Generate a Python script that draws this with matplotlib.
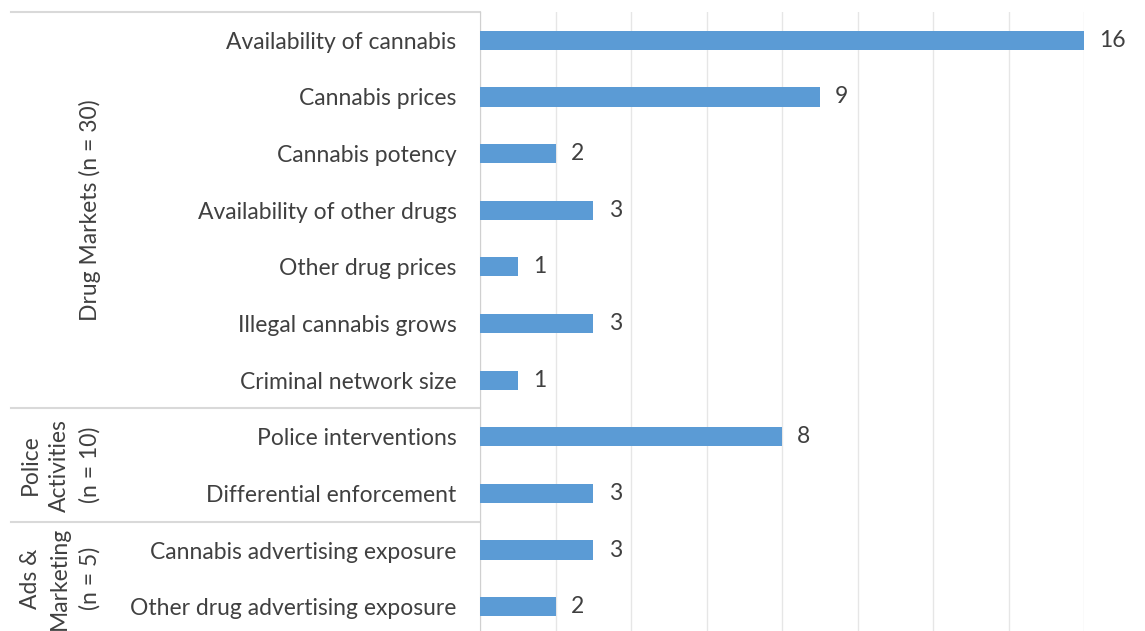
import matplotlib.pyplot as plt
import matplotlib.transforms as mtransforms
import numpy as np

categories = [
    "Availability of cannabis",
    "Cannabis prices",
    "Cannabis potency",
    "Availability of other drugs",
    "Other drug prices",
    "Illegal cannabis grows",
    "Criminal network size",
    "Police interventions",
    "Differential enforcement",
    "Cannabis advertising exposure",
    "Other drug advertising exposure",
]
counts = [16, 9, 2, 3, 1, 3, 1, 8, 3, 3, 2]

# (label, first row, last row)
groups = [
    ("Drug Markets (n = 30)", 0, 6),
    ("Police\nActivities\n(n = 10)", 7, 8),
    ("Ads &\nMarketing\n(n = 5)", 9, 10),
]

plt.rcParams['font.family'] = ['Lato', 'DejaVu Sans']
text_color = "#404040"
fs = 16.5
W, H = 1145, 631

fig = plt.figure(figsize=(W / 100, H / 100), dpi=100)
ax = fig.add_axes([480 / W, 1 - 635 / H, (1084 - 480) / W, (635 - 12) / H])

y = np.arange(len(categories))
ax.barh(y, counts, height=0.34, color="#5B9BD5", zorder=3)

for yi, v in zip(y, counts):
    ax.annotate(str(v), (v, yi), xytext=(11, 0), textcoords="offset points",
                va="center", ha="left", fontsize=fs, color=text_color)

ax.set_xlim(0, 16)
ax.set_ylim(len(categories) - 0.5, -0.5)
ax.set_xticks(np.arange(0, 17, 2))
ax.grid(axis="x", color="#E6E6E6", linewidth=1, zorder=0)
ax.tick_params(axis="x", bottom=False, labelbottom=False)
ax.set_yticks(y)
ax.set_yticklabels(categories, fontsize=fs, color=text_color)
ax.tick_params(axis="y", length=0, pad=17)

for side in ["top", "right", "bottom"]:
    ax.spines[side].set_visible(False)
ax.spines["left"].set_color("#D0D0D0")

# group separators and rotated group names
trans = mtransforms.blended_transform_factory(fig.transFigure, ax.transData)
x0 = 11 / W
x1 = 480 / W
for label, first, last in groups:
    ax.plot([x0, x1], [first - 0.5, first - 0.5], transform=trans,
            color="#D9D9D9", linewidth=1.5, clip_on=False)
    cx = 90 / W if first == 0 else 60 / W
    ax.text(cx, (first + last) / 2, label, transform=trans, rotation=90,
            ha="center", va="center", multialignment="center",
            fontsize=fs, color=text_color, linespacing=1.5)

fig.savefig("out.png", dpi=100)
